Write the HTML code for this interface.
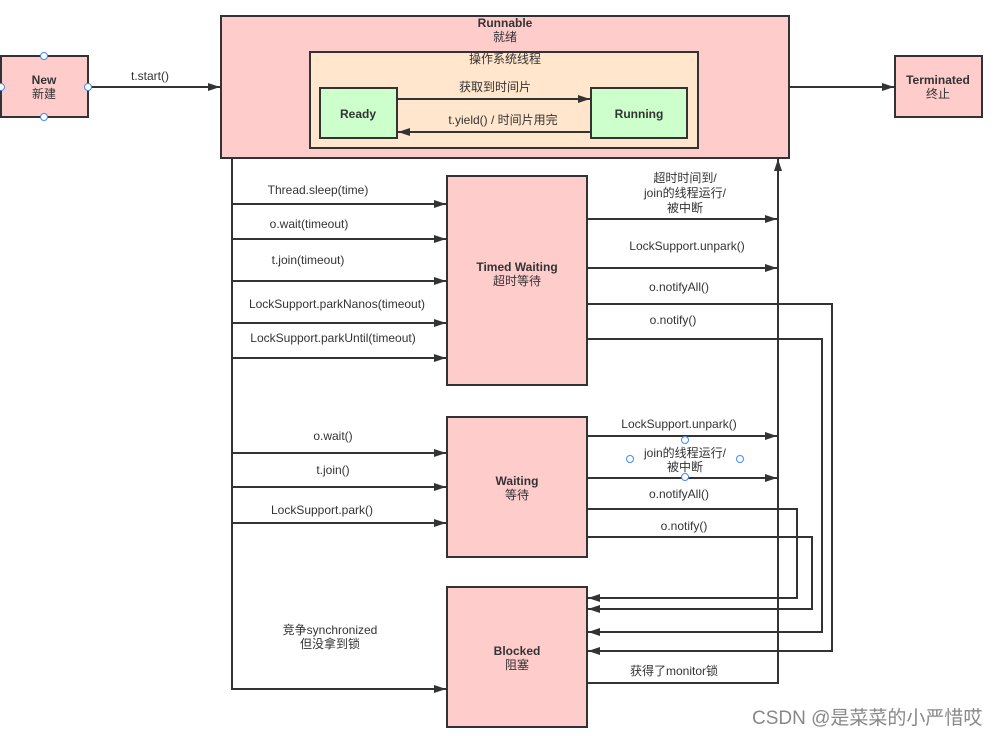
<!DOCTYPE html>
<html><head><meta charset="utf-8"><style>
body{margin:0;background:#fff}
svg{display:block}
text{font-family:"Liberation Sans","Noto Sans CJK SC",sans-serif;font-size:12px;fill:#333}
.b{font-weight:bold}
</style></head><body>
<svg width="999" height="736" viewBox="0 0 999 736">
<defs><marker id="a" markerWidth="12" markerHeight="8" refX="12" refY="4" orient="auto" markerUnits="userSpaceOnUse"><path d="M0,0 L12,4 L0,8 z" fill="#333"/></marker></defs>
<g stroke="#333" stroke-width="2">
<rect x="1" y="56" width="87" height="61" fill="#ffcccc"/>
<rect x="221" y="16" width="568" height="142" fill="#ffcccc"/>
<rect x="310" y="52" width="388" height="96" fill="#ffe6cc"/>
<rect x="320" y="88" width="77" height="50" fill="#ccffcc"/>
<rect x="591" y="88" width="96" height="50" fill="#ccffcc"/>
<rect x="895" y="56" width="87" height="61" fill="#ffcccc"/>
<rect x="447" y="176" width="140" height="209" fill="#ffcccc"/>
<rect x="447" y="417" width="140" height="140" fill="#ffcccc"/>
<rect x="447" y="587" width="140" height="140" fill="#ffcccc"/>
</g>
<g stroke="#333" stroke-width="2" fill="none" marker-end="url(#a)">
<path d="M88 87H220"/>
<path d="M789 87H894"/>
<path d="M397 99H590"/>
<path d="M591 132H398"/>
<path d="M232 204H446"/><path d="M232 239H446"/><path d="M232 281H446"/><path d="M232 323H446"/><path d="M232 358H446"/>
<path d="M232 453H446"/><path d="M232 487H446"/><path d="M232 523H446"/>
<path d="M232 158V689H446"/>
<path d="M587 219H777"/><path d="M587 268H777"/>
<path d="M587 436H777"/><path d="M587 478H777"/>
<path d="M587 683H778V159"/>
<path d="M587 304H832V651H588"/>
<path d="M587 339H822V632H588"/>
<path d="M587 509H797V598H588"/>
<path d="M587 537H812V609H588"/>
</g>
<g fill="#fff" stroke="#3d8bff" stroke-width="1">
<circle cx="44" cy="56" r="3.5"/><circle cx="44" cy="117" r="3.5"/><circle cx="1" cy="87" r="3.5"/><circle cx="88" cy="87" r="3.5"/>
<circle cx="685" cy="440" r="3.5"/><circle cx="685" cy="477" r="3.5"/><circle cx="630" cy="459" r="3.5"/><circle cx="740" cy="459" r="3.5"/>
</g>
<g text-anchor="middle">
<text x="44" y="84" class="b">New</text><text x="44" y="98">新建</text>
<text x="505" y="27" class="b">Runnable</text><text x="505" y="41">就绪</text>
<text x="505" y="63">操作系统线程</text>
<text x="358" y="118" class="b">Ready</text>
<text x="639" y="118" class="b">Running</text>
<text x="938" y="84" class="b">Terminated</text><text x="938" y="98">终止</text>
<text x="150" y="80">t.start()</text>
<text x="495" y="91">获取到时间片</text>
<text x="503" y="124">t.yield() / 时间片用完</text>
<text x="517" y="271" class="b">Timed Waiting</text><text x="517" y="285">超时等待</text>
<text x="517" y="485" class="b">Waiting</text><text x="517" y="499">等待</text>
<text x="517" y="655" class="b">Blocked</text><text x="517" y="669">阻塞</text>
<text x="318" y="194">Thread.sleep(time)</text>
<text x="309" y="228">o.wait(timeout)</text>
<text x="308" y="264">t.join(timeout)</text>
<text x="337" y="308">LockSupport.parkNanos(timeout)</text>
<text x="333" y="342">LockSupport.parkUntil(timeout)</text>
<text x="333" y="440">o.wait()</text>
<text x="333" y="474">t.join()</text>
<text x="322" y="514">LockSupport.park()</text>
<text x="330" y="634">竞争synchronized</text><text x="330" y="648">但没拿到锁</text>
<text x="685" y="182">超时时间到/</text><text x="685" y="197">join的线程运行/</text><text x="685" y="212">被中断</text>
<text x="687" y="250">LockSupport.unpark()</text>
<text x="679" y="291">o.notifyAll()</text>
<text x="673" y="324">o.notify()</text>
<text x="679" y="428">LockSupport.unpark()</text>
<text x="685" y="457">join的线程运行/</text><text x="685" y="471">被中断</text>
<text x="679" y="498">o.notifyAll()</text>
<text x="684" y="530">o.notify()</text>
<text x="674" y="675">获得了monitor锁</text>
</g>
<text x="752" y="724" style="font-size:19px;fill:#888">CSDN @是菜菜的小严惜哎</text>
</svg>
</body></html>
